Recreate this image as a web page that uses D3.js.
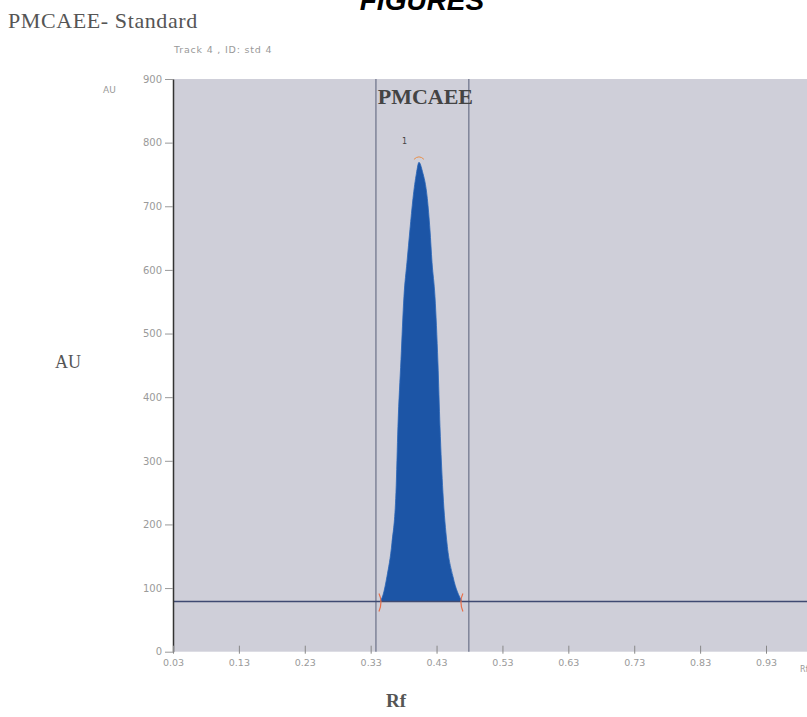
<!DOCTYPE html>
<html>
<head>
<meta charset="utf-8">
<script src="https://cdn.jsdelivr.net/npm/d3@7"></script>
<style>
  body { margin: 0; background: #fff; }
  svg { display: block; }
</style>
</head>
<body>
<svg id="chart" width="807" height="717"></svg>
<script>
// values
var xTicks = [0.03, 0.13, 0.23, 0.33, 0.43, 0.53, 0.63, 0.73, 0.83, 0.93];
var yTicks = [0, 100, 200, 300, 400, 500, 600, 700, 800, 900];
var peakRf = [0.3441, 0.3487, 0.3547, 0.3623, 0.3684, 0.3714, 0.3760, 0.3805, 0.3851, 0.3896, 0.3942, 0.3995, 0.4033,
              0.4085, 0.4160, 0.4200, 0.4231, 0.4276, 0.4321, 0.4352, 0.4397, 0.4458, 0.4549, 0.4685];
var peakAU = [79, 89, 118, 171, 250, 354, 459, 558, 612, 663, 712, 752, 769,
              755, 712, 663, 612, 558, 454, 354, 250, 171, 118, 79];
var baselineAU = 79;
var boundsRf = [0.338, 0.479];   // integration window lines
var peakName = "PMCAEE";

var svg = d3.select("#chart");
var W = 807;

var x = d3.scaleLinear().domain([0.03, 0.93]).range([173, 766]);
var y = d3.scaleLinear().domain([0, 900]).range([651.7, 79]);

// top texts
svg.append("text").attr("x", 422).attr("y", 10)
  .attr("text-anchor", "middle")
  .style("font", "italic bold 28px 'Liberation Sans', Arial, sans-serif")
  .attr("fill", "#000").text("FIGURES");

svg.append("text").attr("x", 8).attr("y", 28)
  .style("font", "22px 'Liberation Serif', 'DejaVu Serif', serif")
  .style("letter-spacing", "0.6px")
  .attr("fill", "#555").text("PMCAEE- Standard");

svg.append("text").attr("x", 174).attr("y", 53)
  .style("font", "9.5px 'DejaVu Sans', sans-serif")
  .style("letter-spacing", "0.8px")
  .attr("fill", "#999").text("Track  4 , ID: std 4");

// plot background
svg.append("rect")
  .attr("x", x(0.03)).attr("y", y(900))
  .attr("width", W - x(0.03)).attr("height", y(0) - y(900))
  .attr("fill", "#cfcfd9");

// integration window
svg.selectAll(".bound").data(boundsRf).enter().append("line")
  .attr("class", "bound")
  .attr("x1", function(d){ return x(d); }).attr("x2", function(d){ return x(d); })
  .attr("y1", y(900)).attr("y2", y(0))
  .attr("stroke", "#6a7088").attr("stroke-width", 1.2);

// peak
var pts = peakRf.map(function(r, i){ return [r, peakAU[i]]; });
var area = d3.area()
  .x(function(d){ return x(d[0]); })
  .y0(y(baselineAU))
  .y1(function(d){ return y(d[1]); })
  .curve(d3.curveMonotoneX);
svg.append("path").datum(pts)
  .attr("d", area)
  .attr("fill", "#1c55a6")
  .attr("stroke", "#2a66b8").attr("stroke-width", 0.8);

// baseline
svg.append("line")
  .attr("x1", x(0.03)).attr("x2", W)
  .attr("y1", y(baselineAU)).attr("y2", y(baselineAU))
  .attr("stroke", "#3f4a72").attr("stroke-width", 1.6);

// peak start/end markers
var ends = [pts[0], pts[pts.length - 1]];
svg.selectAll(".endMark").data(ends).enter().append("path")
  .attr("class", "endMark")
  .attr("d", function(d, i){
    var px = x(d[0]), py = y(d[1]);
    var s = i === 0 ? -1 : 1;
    return "M" + (px + s * 1) + "," + (py - 8) + " Q" + (px - s * 3) + "," + py + " " + (px + s * 1) + "," + (py + 10);
  })
  .attr("fill", "none").attr("stroke", "#e8704a").attr("stroke-width", 1.2);

// apex marker and number
var apex = pts[d3.maxIndex(pts, function(d){ return d[1]; })];
svg.append("path")
  .attr("d", "M" + (x(apex[0]) - 5) + "," + (y(apex[1]) - 3) + " Q" + x(apex[0]) + "," + (y(apex[1]) - 8) + " " + (x(apex[0]) + 5) + "," + (y(apex[1]) - 3))
  .attr("fill", "none").attr("stroke", "#e8904a").attr("stroke-width", 1);
svg.append("text").attr("x", x(apex[0]) - 17).attr("y", y(apex[1]) - 18)
  .style("font", "8px 'DejaVu Sans', sans-serif")
  .attr("fill", "#444").text("1");

svg.append("text").attr("x", d3.mean(boundsRf.map(x)) + 3).attr("y", 104)
  .attr("text-anchor", "middle")
  .style("font", "bold 22px 'Liberation Serif', 'DejaVu Serif', serif")
  .attr("fill", "#444").text(peakName);

// axes
var yAxis = d3.axisLeft(y).tickValues(yTicks).tickSize(8).tickSizeOuter(0);
var gy = svg.append("g").attr("transform", "translate(" + x(0.03) + ",0)").call(yAxis);
gy.select(".domain").attr("stroke", "#333").attr("stroke-width", 1.5);
gy.selectAll(".tick line").attr("stroke", "#999");
gy.selectAll(".tick text").attr("fill", "#9a9a9a")
  .style("font", "10px 'DejaVu Sans', sans-serif").attr("x", -11);

var xAxis = d3.axisBottom(x).tickValues(xTicks).tickSize(4).tickSizeOuter(0)
  .tickFormat(d3.format(".2f"));
var gx = svg.append("g").attr("transform", "translate(0," + y(0) + ")").call(xAxis);
gx.select(".domain").remove();
gx.selectAll(".tick line").attr("stroke", "#888").attr("y1", -6).attr("y2", 2);
gx.selectAll(".tick text").attr("fill", "#9a9a9a")
  .style("font", "9.5px 'DejaVu Sans', sans-serif").attr("y", 8);

// axis titles
svg.append("text").attr("x", 103).attr("y", 93)
  .style("font", "9px 'DejaVu Sans', sans-serif")
  .attr("fill", "#999").text("AU");
svg.append("text").attr("x", 55).attr("y", 368)
  .style("font", "18px 'Liberation Serif', 'DejaVu Serif', serif")
  .attr("fill", "#555").text("AU");
svg.append("text").attr("x", 800).attr("y", 672)
  .style("font", "8px 'DejaVu Sans', sans-serif")
  .attr("fill", "#999").text("Rf");
svg.append("text").attr("x", 396).attr("y", 707)
  .attr("text-anchor", "middle")
  .style("font", "bold 19px 'Liberation Serif', 'DejaVu Serif', serif")
  .attr("fill", "#555").text("Rf");
</script>
</body>
</html>
